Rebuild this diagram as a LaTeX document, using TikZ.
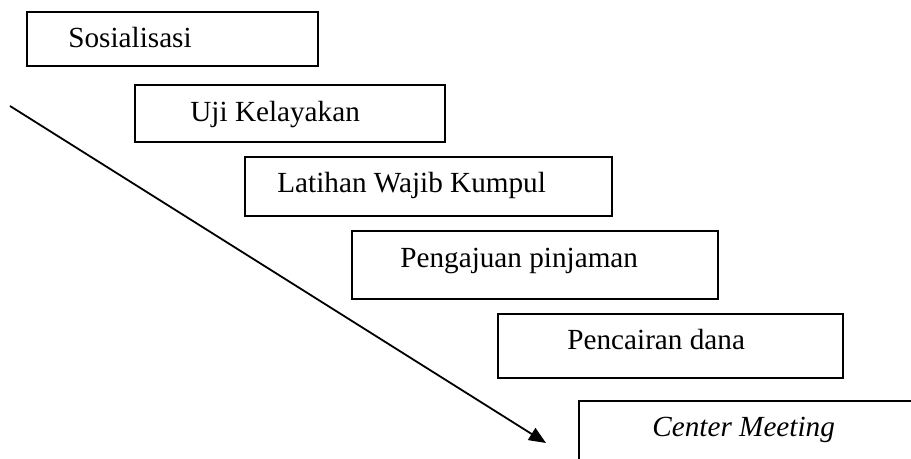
\documentclass[tikz,border=0pt]{standalone}
\usepackage{fontspec}
\setmainfont{Liberation Serif}
\usetikzlibrary{arrows.meta}
\begin{document}
\begin{tikzpicture}[x=0.5pt,y=-0.5pt,
  stepbox/.style={draw, line width=0.65pt, rectangle, inner sep=0pt, outer sep=0pt},
  lbl/.style={anchor=base west, inner sep=0pt, font=\fontsize{14.6}{17}\selectfont},
  flow/.style={line width=0.9pt, -{Triangle[length=8.5pt,width=7pt]}}]
\useasboundingbox (0,0) rectangle (911,459);
\node[stepbox, minimum width=145.5pt, minimum height=27pt] (b1) at (172.5,39) {};
\node[stepbox, minimum width=155pt, minimum height=28.5pt] (b2) at (290,113.5) {};
\node[stepbox, minimum width=183.5pt, minimum height=29.5pt] (b3) at (428.5,186.5) {};
\node[stepbox, minimum width=183pt, minimum height=34pt] (b4) at (535,265) {};
\node[stepbox, minimum width=172.5pt, minimum height=32pt] (b5) at (670.5,346) {};
\coordinate (b6bl) at (579,459);
\coordinate (b6tl) at (579,401);
\coordinate (b6tr) at (911,401);
\draw[line width=0.65pt] (b6bl) -- (b6tl) -- (b6tr);
\node[lbl] (t1) at (68,48) {Sosialisasi};
\node[lbl] (t2) at (190,122) {Uji Kelayakan};
\node[lbl] (t3) at (277,193) {Latihan Wajib Kumpul};
\node[lbl] (t4) at (400,268) {Pengajuan pinjaman};
\node[lbl] (t5) at (567,350) {Pencairan dana};
\node[lbl] (t6) at (652,437) {\itshape Center Meeting};
\coordinate (as) at (10,106);
\coordinate (ae) at (546,443);
\draw[flow] (as) -- (ae);
\end{tikzpicture}
\end{document}
